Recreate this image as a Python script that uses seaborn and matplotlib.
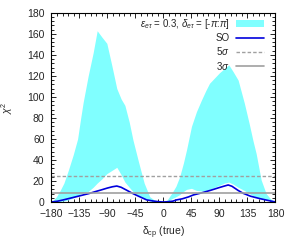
import numpy as np
import matplotlib
matplotlib.use("Agg")
import matplotlib.pyplot as plt
import seaborn as sns
import pandas as pd
from matplotlib.ticker import MultipleLocator

# ---- data ----
band_delta = [-180, -172, -166, -160, -153, -145, -138, -133, -129, -121, -113, -106.5,
              -99, -91, -83, -75, -68, -62, -55, -49, -40, -31, -22, -15, -8, 0,
              3, 6, 13, 20, 26, 32, 37, 45, 53, 61, 68, 74, 82, 90, 98, 105, 112,
              120, 130, 138, 144, 149, 157, 165, 172, 180]
band_upper = [0, 5, 11, 18, 30, 45, 60, 80, 95, 120, 142, 163,
              157, 151, 130, 108, 98, 92, 76, 59, 38, 18, 5, 2, 0.5, 0,
              0.5, 2, 8, 15, 24, 37, 49.5, 72, 86, 97, 106, 113, 118, 123, 127, 130.5, 124,
              116, 94, 74, 58, 46, 21, 8, 3, 0]
band_lower = [0, 0.2, 0.5, 1, 2, 4, 6, 8, 9, 10, 14, 18,
              22, 27, 30, 33, 26, 19, 14, 10, 6, 3.5, 1, 0.5, 0.2, 0,
              0.2, 0.5, 3, 5, 7, 10, 12, 13, 11, 10.5, 11, 12, 14, 16, 18, 19, 17,
              14, 11, 8, 6, 5, 3, 2, 1, 0]

so_delta = [-180, -170, -161, -150, -137, -129, -120, -110, -100, -90, -82, -75,
            -68, -60, -49, -40, -27, -15, -8, 0,
            8, 15, 21, 30, 40, 48, 60, 75, 90, 98, 104, 110, 120, 128, 140, 155, 168, 180]
so_chi2 = [0, 0.8, 2, 3.6, 5.5, 6.7, 8, 9.8, 11.5, 13.3, 14.5, 15.2,
           14, 11.5, 8, 5.5, 2, 0.8, 0.3, 0,
           0.3, 0.8, 2, 3, 4.8, 6.7, 8.5, 11, 13.8, 15.2, 16.2, 15, 11, 8.3, 5.5, 3.2, 1.5, 0]

sigma5 = 25
sigma3 = 9

xticks = [-180, -135, -90, -45, 0, 45, 90, 135, 180]
yticks = [0, 20, 40, 60, 80, 100, 120, 140, 160, 180]

# ---- style ----
sns.set_style("ticks")
plt.rcParams['font.family'] = ['Liberation Sans', 'DejaVu Sans']
plt.rcParams['mathtext.fontset'] = 'custom'
plt.rcParams['mathtext.rm'] = 'Liberation Sans'
plt.rcParams['mathtext.it'] = 'Liberation Sans:italic'
plt.rcParams['mathtext.sf'] = 'Liberation Sans'

fig = plt.figure(figsize=(2.94, 2.45), dpi=100)
ax = fig.add_axes([0.175, 0.1755, 0.762, 0.772])

ax.fill_between(band_delta, band_lower, band_upper, color="#80FFFF", linewidth=0,
                label=r"$\varepsilon_{e\tau}$ = 0.3, $\delta_{e\tau}$ = [-$\pi$:$\pi$]")

so_df = pd.DataFrame({"delta": so_delta, "chi2": so_chi2})
sns.lineplot(data=so_df, x="delta", y="chi2", ax=ax, color="#0000DD", linewidth=1.2,
             label="SO")
ax.axhline(sigma5, color="#A0A0A0", linestyle=(0, (2.5, 1.5)), linewidth=1.0, label=r"5$\sigma$")
ax.axhline(sigma3, color="#A0A0A0", linestyle="-", linewidth=1.2, label=r"3$\sigma$")

ax.set_xlim(-180, 180)
ax.set_ylim(0, 180)
ax.set_xticks(xticks)
ax.set_yticks(yticks)
ax.xaxis.set_minor_locator(MultipleLocator(9))
ax.yaxis.set_minor_locator(MultipleLocator(4))
ax.tick_params(which="both", direction="in", top=True, right=True, labelsize=7.5,
               color="black", width=0.6)
ax.tick_params(axis="x", which="major", pad=5)
ax.tick_params(axis="y", which="major", pad=5)
ax.tick_params(which="major", length=3.5)
ax.tick_params(which="minor", length=2)
for s in ax.spines.values():
    s.set_linewidth(0.8)
    s.set_color("black")

ax.set_xlabel(r"$\mathrm{\delta_{cp}}$ (true)", fontsize=7.5, labelpad=4)
ax.set_ylabel(r"$\chi^2$", fontsize=7.5, labelpad=9)

leg = ax.legend(loc="upper right", bbox_to_anchor=(0.965, 0.998), frameon=False,
                markerfirst=False, fontsize=7, handlelength=2.9, handletextpad=0.6,
                labelspacing=0.22, borderaxespad=0.0)

fig.savefig("out.png", dpi=100)
